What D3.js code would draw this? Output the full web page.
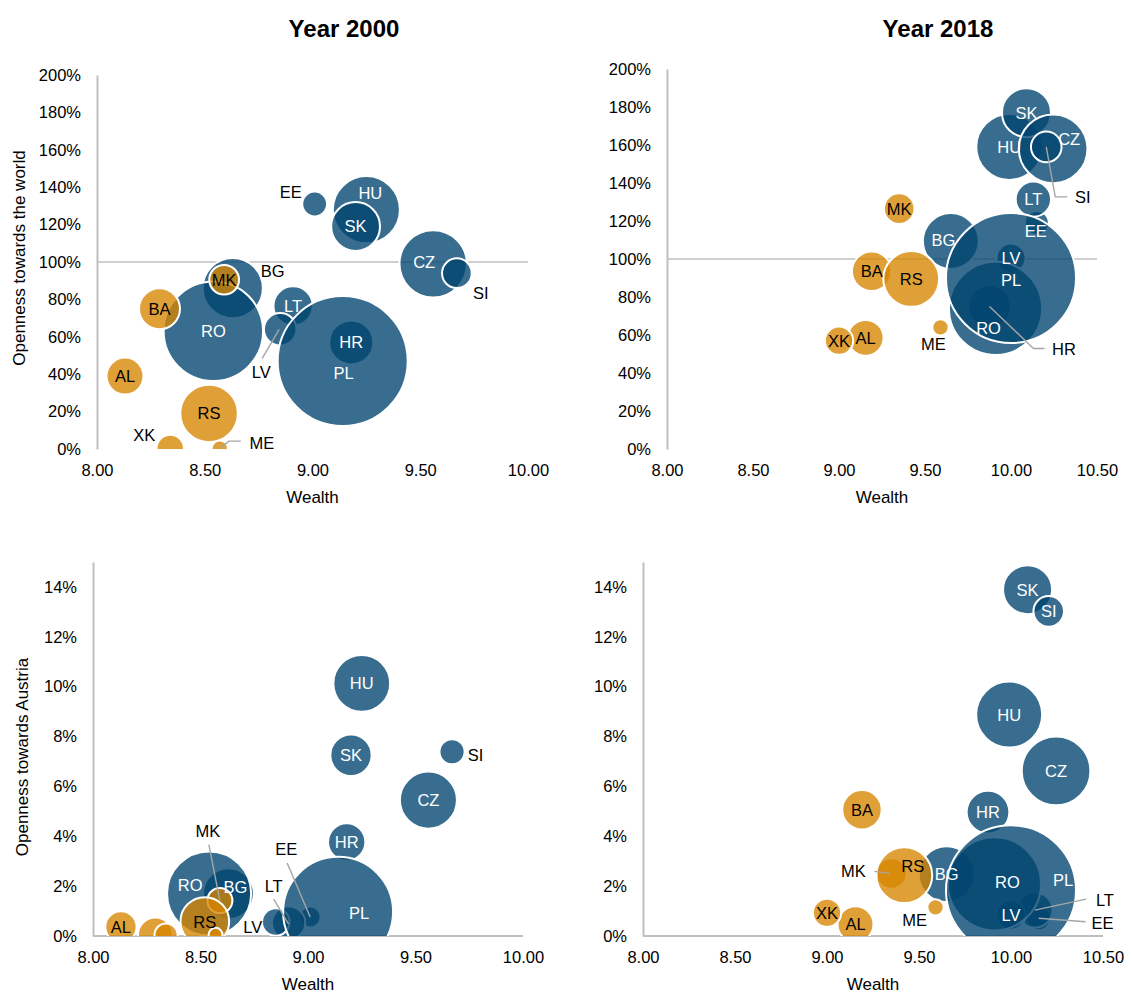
<!DOCTYPE html>
<html lang="en">
<head>
<meta charset="UTF-8">
<title>Openness and wealth, 2000 vs 2018</title>
<script src="https://cdn.jsdelivr.net/npm/d3@7"></script>
<style>
  body { margin: 0; background: #fff; }
  svg { font-family: "Liberation Sans", Arial, sans-serif; }
  .tick text { font-size: 16.5px; fill: #000; }
  .bubble-label { font-size: 16.5px; }
  .axis-title { font-size: 17px; fill: #000; }
  .chart-title { font-size: 24px; font-weight: bold; fill: #000; }
</style>
</head>
<body>
<div id="chart"></div>
<script>
// countries in the order the bubbles are stacked
var countries = ["BG", "HU", "SK", "CZ", "SI", "EE", "LT", "LV", "HR", "RO", "PL",
                 "AL", "BA", "MK", "RS", "ME", "XK"];
var region = ["EU", "EU", "EU", "EU", "EU", "EU", "EU", "EU", "EU", "EU", "EU",
              "WB", "WB", "WB", "WB", "WB", "WB"];

// wealth (x)
var wealth2000 = [8.63, 9.25, 9.20, 9.56, 9.67, 9.01, 8.91, 8.85, 9.18, 8.54, 9.14,
                  8.13, 8.29, 8.59, 8.52, 8.57, 8.34];
var wealth2018 = [9.65, 9.99, 10.09, 10.245, 10.205, 10.15, 10.13, 10.0, 9.875, 9.91, 10.0,
                  9.155, 9.19, 9.35, 9.42, 9.59, 9.0];

// openness towards the world, %
var worldOpen2000 = [86, 128, 119, 99, 94, 131, 76.5, 64, 57, 63, 47,
                     39, 75, 90.5, 19, 0.2, 0.3];
var worldOpen2018 = [109.5, 159, 177, 158, 159, 119, 131.5, 100.5, 75, 74, 90,
                     58.5, 93.5, 126.5, 89.5, 64, 57];

// openness towards Austria, %
var austriaOpen2000 = [1.7, 10.13, 7.25, 5.45, 7.39, 0.76, 0.52, 0.56, 3.77, 1.7, 0.97,
                       0.37, 0.05, 1.42, 0.58, 0.05, 0.04];
var austriaOpen2018 = [2.48, 8.88, 13.89, 6.62, 13.02, 0.71, 1.04, 0.84, 4.97, 2.09, 1.83,
                       0.47, 5.06, 2.51, 2.44, 1.15, 0.93];

// bubble size (population, millions)
var population2000 = [8.2, 10.2, 5.4, 10.3, 2.0, 1.4, 3.5, 2.4, 4.4, 22.4, 38.3,
                      3.1, 3.8, 2.0, 7.5, 0.6, 1.7];
var population2018 = [7.0, 9.8, 5.4, 10.6, 2.1, 1.3, 2.8, 1.9, 4.1, 19.5, 38.0,
                      2.9, 3.5, 2.1, 7.0, 0.6, 1.8];

var xTicks2000 = [8, 8.5, 9, 9.5, 10];
var xTicks2018 = [8, 8.5, 9, 9.5, 10, 10.5];
var worldTicks = [0, 20, 40, 60, 80, 100, 120, 140, 160, 180, 200];
var austriaTicks = [0, 2, 4, 6, 8, 10, 12, 14];

var color = { EU: "#00446f", WB: "#d78500" };

// label placement (offsets from bubble centre, px); out = label sits outside the bubble
var labels2000w = {
  EE: { dx: -24, dy: -12, out: true },
  HU: { dx: 4, dy: -17 },
  CZ: { dx: -9, dy: -2 },
  SI: { dx: 24, dy: 20, out: true },
  BG: { dx: 40, dy: -17, out: true },
  LV: { dx: -19, dy: 43, out: true, leader: [[-18, 29], [-1, 0]] },
  PL: { dx: 1, dy: 12 },
  ME: { dx: 42, dy: -6, out: true, leader: [[1, -1], [9, -7.5], [21, -7.5]] },
  XK: { dx: -26, dy: -13, out: true }
};
var labels2018w = {
  CZ: { dx: 16, dy: -10 },
  SI: { dx: 36.5, dy: 50, out: true, leader: [[0, 0], [9, 50], [21, 50]] },
  EE: { dx: -1, dy: 8 },
  BG: { dx: -7.5, dy: -1 },
  PL: { dx: 0, dy: 2 },
  RO: { dx: -7, dy: 20 },
  HR: { dx: 74.5, dy: 42, out: true, leader: [[0, 0], [44, 42], [55, 42]] },
  ME: { dx: -7, dy: 17, out: true }
};
var labels2000a = {
  SI: { dx: 23.5, dy: 3.5, out: true },
  PL: { dx: 21, dy: 1 },
  RO: { dx: -19, dy: -9 },
  BG: { dx: 7, dy: -7 },
  MK: { dx: -12, dy: -70, out: true, leader: [[-11, -56], [0, 0]] },
  LV: { dx: -23, dy: 5, out: true },
  LT: { dx: -15, dy: -37, out: true, leader: [[-15, -24], [0, 1]] },
  EE: { dx: -24, dy: -68, out: true, leader: [[-23, -54], [0, 0]] },
  BA: { hide: true },
  XK: { hide: true },
  ME: { hide: true }
};
var labels2018a = {
  RS: { dx: 8.5, dy: -9 },
  MK: { dx: -38, dy: -2, out: true, leader: [[-17, -2], [-2, 0]] },
  RO: { dx: 13, dy: -2 },
  PL: { dx: 52, dy: -10 },
  LT: { dx: 70, dy: -10, out: true, leader: [[0, 0], [51, -11]] },
  EE: { dx: 64, dy: 4.5, out: true, leader: [[0, 0], [47, 3.5]] },
  ME: { dx: -21, dy: 13, out: true }
};

var panels = [
  { title: "Year 2000", titleX: 344, wealth: wealth2000, open: worldOpen2000, size: population2000,
    left: 97, top: 75, width: 431, height: 374, xMax: 10, xTicks: xTicks2000,
    yMax: 200, yTicks: worldTicks, crossAt: 100, rMax: 65, labels: labels2000w,
    yTitle: "Openness towards the world", yTitleX: 19, yTitleY: 258 },
  { title: "Year 2018", titleX: 938, wealth: wealth2018, open: worldOpen2018, size: population2018,
    left: 667, top: 69, width: 430, height: 380, xMax: 10.5, xTicks: xTicks2018,
    yMax: 200, yTicks: worldTicks, crossAt: 100, rMax: 65, labels: labels2018w },
  { wealth: wealth2000, open: austriaOpen2000, size: population2000,
    left: 93, top: 562, width: 430, height: 374, xMax: 10, xTicks: xTicks2000,
    yMax: 15, yTicks: austriaTicks, crossAt: 0, rMax: 55, labels: labels2000a,
    yTitle: "Openness towards Austria", yTitleX: 22, yTitleY: 757 },
  { wealth: wealth2018, open: austriaOpen2018, size: population2018,
    left: 643, top: 562, width: 460, height: 374, xMax: 10.5, xTicks: xTicks2018,
    yMax: 15, yTicks: austriaTicks, crossAt: 0, rMax: 65, labels: labels2018a }
];

var svg = d3.select("#chart").append("svg")
  .attr("width", 1132)
  .attr("height", 992);

panels.forEach(function (p, i) {
  var g = svg.append("g").attr("transform", "translate(" + p.left + "," + p.top + ")");
  var x = d3.scaleLinear().domain([8, p.xMax]).range([0, p.width]);
  var y = d3.scaleLinear().domain([0, p.yMax]).range([p.height, 0]);
  var r = d3.scaleSqrt().domain([0, d3.max(p.size)]).range([0, p.rMax]);

  var rows = countries.map(function (c, j) {
    return { code: c, region: region[j], wealth: p.wealth[j], open: p.open[j], size: p.size[j] };
  });

  // x tick labels along the bottom
  g.append("g")
    .attr("transform", "translate(0," + p.height + ")")
    .call(d3.axisBottom(x).tickValues(p.xTicks).tickFormat(d3.format(".2f")).tickSize(0).tickPadding(15))
    .call(function (a) { a.select(".domain").remove(); })
    .attr("font-family", null).attr("font-size", null);

  // horizontal axis line (crosses at 100% in the world charts)
  g.append("line")
    .attr("x1", 0).attr("x2", p.width)
    .attr("y1", y(p.crossAt)).attr("y2", y(p.crossAt))
    .attr("stroke", "#bfbfbf")
    .attr("stroke-width", p.crossAt ? 1.6 : 2);

  // y axis
  g.append("g")
    .call(d3.axisLeft(y).tickValues(p.yTicks).tickFormat(function (d) { return d + "%"; }).tickSize(0).tickPadding(16))
    .call(function (a) { a.select(".domain").attr("stroke", "#bfbfbf").attr("stroke-width", 2); })
    .attr("font-family", null).attr("font-size", null);

  // bubbles
  var clipId = "plot-clip-" + i;
  g.append("clipPath").attr("id", clipId)
    .append("rect").attr("width", p.width).attr("height", p.height);

  g.append("g")
    .attr("clip-path", "url(#" + clipId + ")")
    .selectAll("circle")
    .data(rows)
    .join("circle")
    .attr("cx", function (d) { return x(d.wealth); })
    .attr("cy", function (d) { return y(d.open); })
    .attr("r", function (d) { return r(d.size); })
    .attr("fill", function (d) { return color[d.region]; })
    .attr("fill-opacity", 0.78)
    .attr("stroke", "#fff")
    .attr("stroke-width", 2);

  // data labels
  var shown = rows.filter(function (d) { return !(p.labels[d.code] && p.labels[d.code].hide); });
  var pos = function (d) { return p.labels[d.code] || { dx: 0, dy: 0 }; };

  g.append("g").selectAll("polyline")
    .data(shown.filter(function (d) { return pos(d).leader; }))
    .join("polyline")
    .attr("points", function (d) {
      var cx = x(d.wealth), cy = y(d.open);
      return pos(d).leader.map(function (pt) { return (cx + pt[0]) + "," + (cy + pt[1]); }).join(" ");
    })
    .attr("fill", "none")
    .attr("stroke", "#a6a6a6")
    .attr("stroke-width", 1.4);

  g.append("g").selectAll("text")
    .data(shown)
    .join("text")
    .attr("class", "bubble-label")
    .attr("x", function (d) { return x(d.wealth) + pos(d).dx; })
    .attr("y", function (d) { return y(d.open) + pos(d).dy; })
    .attr("text-anchor", "middle")
    .attr("dominant-baseline", "central")
    .attr("fill", function (d) { return (pos(d).out || d.region === "WB") ? "#000" : "#fff"; })
    .text(function (d) { return d.code; });

  // titles
  g.append("text")
    .attr("class", "axis-title")
    .attr("x", p.width / 2)
    .attr("y", p.height + 48)
    .attr("text-anchor", "middle")
    .attr("dominant-baseline", "central")
    .text("Wealth");

  if (p.yTitle) {
    svg.append("text")
      .attr("class", "axis-title")
      .attr("transform", "translate(" + p.yTitleX + "," + p.yTitleY + ") rotate(-90)")
      .attr("text-anchor", "middle")
      .attr("dominant-baseline", "central")
      .text(p.yTitle);
  }

  if (p.title) {
    svg.append("text")
      .attr("class", "chart-title")
      .attr("x", p.titleX)
      .attr("y", 28)
      .attr("text-anchor", "middle")
      .attr("dominant-baseline", "central")
      .text(p.title);
  }
});
</script>
</body>
</html>
